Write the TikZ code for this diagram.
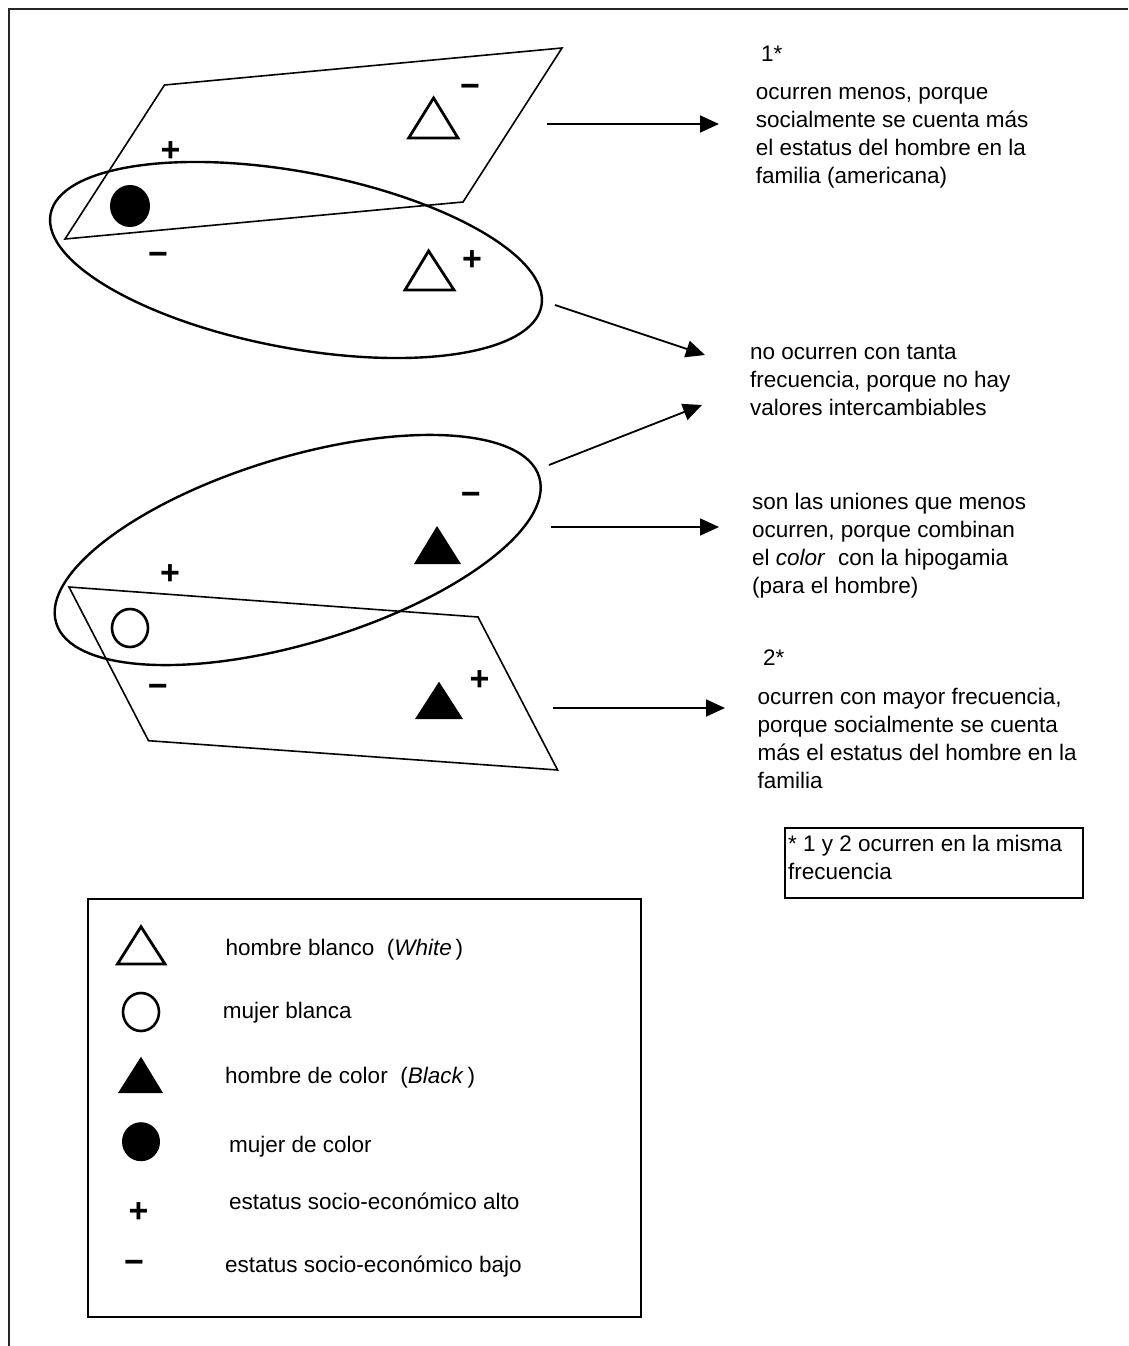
\documentclass[tikz,border=0pt]{standalone}
\usepackage{fontspec}
\setmainfont{Liberation Sans}
\usetikzlibrary{arrows.meta}
\begin{document}
\begin{tikzpicture}[x=1pt,y=-1pt,
  para/.style={draw, line width=1.6pt, line join=miter},
  ell/.style={draw, line width=2.4pt},
  otri/.style={draw, line width=2.8pt, line join=miter},
  ocirc/.style={draw, line width=2.6pt},
  arr/.style={line width=1.8pt, -{Triangle[length=19pt,width=17pt]}},
  txt/.style={anchor=north west, inner sep=0pt, align=left, font=\fontsize{22.5}{28}\selectfont},
  ltxt/.style={anchor=base west, inner sep=0pt, font=\fontsize{22.5}{28}\selectfont},
  plussign/.style={anchor=base, inner sep=0pt, font=\fontsize{34}{34}\selectfont\bfseries},
  minussign/.style={anchor=base, inner sep=0pt, font=\fontsize{34}{34}\selectfont\bfseries},
  boxline/.style={draw, line width=2pt}]
\useasboundingbox (0,0) rectangle (1128,1346);
% outer frame (top and left edges visible)
\draw[line width=2pt, black!85] (9,1346) -- (9,9) -- (1128,9);

% ---- upper group ----
\draw[para] (164.5,85) -- (562,48) -- (463,202) -- (65,239) -- cycle;
\draw[ell, rotate around={-10.6:(296,260)}] (296,260) ellipse [x radius=249.7, y radius=88.1];
\fill (130,206) ellipse [x radius=20, y radius=21];
\draw[otri] (433.6,98) -- (408.7,138) -- (458,138) -- cycle;
\draw[otri] (428.6,251) -- (405,290) -- (454,290) -- cycle;
\node[minussign] (m1) at (470,97) {−};
\node[plussign] (p1) at (170.5,161) {+};
\node[minussign] (m2) at (158,265) {−};
\node[plussign] (p2) at (472,270) {+};

% ---- lower group ----
\draw[ell, rotate around={16.8:(297.7,550)}] (297.7,550) ellipse [x radius=252.3, y radius=93];
\draw[para] (69,587) -- (478,617) -- (557.6,770) -- (148.5,740.7) -- cycle;
\draw[ocirc] (130,628) ellipse [x radius=18, y radius=19];
\fill (437,526) -- (414,564) -- (461,564) -- cycle;
\fill (439,681.7) -- (415,719) -- (463,719) -- cycle;
\node[minussign] (m3) at (470.7,505) {−};
\node[plussign] (p3) at (170,584) {+};
\node[minussign] (m4) at (157.7,697) {−};
\node[plussign] (p4) at (479.5,690) {+};

% ---- arrows ----
\coordinate (a1s) at (547,124);  \coordinate (a1e) at (719,124);
\coordinate (a2s) at (555,305);  \coordinate (a2e) at (705,355);
\coordinate (a3s) at (549,465);  \coordinate (a3e) at (702,405);
\coordinate (a4s) at (551,527);  \coordinate (a4e) at (719,527);
\coordinate (a5s) at (553,708);  \coordinate (a5e) at (725,708);
\draw[arr] (a1s) -- (a1e);
\draw[arr] (a2s) -- (a2e);
\draw[arr] (a3s) -- (a3e);
\draw[arr] (a4s) -- (a4e);
\draw[arr] (a5s) -- (a5e);

% ---- texts ----
\node[txt] (t1s) at (761,41.4) {\strut 1*};
\node[txt] (t1) at (755.6,79.4) {\strut ocurren menos, porque\\socialmente se cuenta más\\el estatus del hombre en la\\familia (americana)};
\node[txt] (t2) at (750,339.4) {\strut no ocurren con tanta\\frecuencia, porque no hay\\valores intercambiables};
\node[txt] (t3) at (752,489.4) {\strut son las uniones que menos\\ocurren, porque combinan\\el \textit{color}\ \ con la hipogamia\\(para el hombre)};
\node[txt] (t2s) at (763,645.4) {\strut 2*};
\node[txt] (t5) at (757.5,684.4) {\strut ocurren con mayor frecuencia,\\porque socialmente se cuenta\\más el estatus del hombre en la\\familia};

% ---- footnote box ----
\draw[boxline] (785,828) rectangle (1083,898);
\node[txt] (fn) at (788,831.4) {\strut * 1 y 2 ocurren en la misma\\frecuencia};

% ---- legend ----
\draw[boxline] (88.4,899) rectangle (640.6,1316.7);
\draw[otri] (141,926.7) -- (117.5,964) -- (165,964) -- cycle;
\draw[ocirc] (141,1012) ellipse [x radius=18, y radius=19];
\fill (141,1056.7) -- (118,1093) -- (163,1093) -- cycle;
\fill (141,1141.7) ellipse [x radius=19, y radius=19.5];
\node[plussign] (lp) at (138.5,1222.5) {+};
\node[minussign] (lm) at (134,1273) {−};
\node[ltxt] (l1) at (225.4,955) {hombre blanco\ \ (\textit{White}\,)};
\node[ltxt] (l2) at (222.7,1018) {mujer blanca};
\node[ltxt] (l3) at (225,1083) {hombre de color\ \ (\textit{Black}\,)};
\node[ltxt] (l4) at (229,1152) {mujer de color};
\node[ltxt] (l5) at (229,1209) {estatus socio-económico alto};
\node[ltxt] (l6) at (225,1272) {estatus socio-económico bajo};
\end{tikzpicture}
\end{document}
